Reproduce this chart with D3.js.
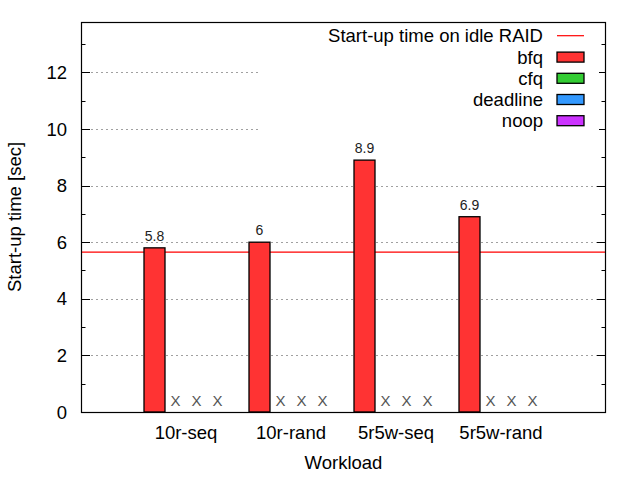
<!DOCTYPE html>
<html>
<head>
<meta charset="utf-8">
<script src="https://cdn.jsdelivr.net/npm/d3@7"></script>
<style>
  body { margin: 0; background: #fff; }
  svg { display: block; }
  text { font-family: "Liberation Sans", Arial, sans-serif; }
</style>
</head>
<body>
<svg id="chart" width="640" height="480"></svg>
<script>
// ---- data ----
const categories = ["10r-seq", "10r-rand", "5r5w-seq", "5r5w-rand"];
const schedulers = ["bfq", "cfq", "deadline", "noop"];
const bfqValues = [5.8, 6.0, 8.9, 6.9];
const cfqValues = [null, null, null, null];
const deadlineValues = [null, null, null, null];
const noopValues = [null, null, null, null];
const valueLabels = ["5.8", "6", "8.9", "6.9"];
const idleRaidTime = 5.65;
const yTicks = [0, 2, 4, 6, 8, 10, 12];
const yMinorTicks = [1, 3, 5, 7, 9, 11, 13];
const colors = ["#ff3333", "#33cc33", "#3399ff", "#cc33ff"];
const legendLineLabel = "Start-up time on idle RAID";

const seriesValues = [bfqValues, cfqValues, deadlineValues, noopValues];

// ---- layout ----
const svg = d3.select("#chart");
const L = 81, R = 606, T = 22, B = 412;
const FS = 18.5;
const x = d3.scaleLinear().domain([-1, categories.length]).range([L, R]);
const y = d3.scaleLinear().domain([0, 13.78]).range([B, T]);
const slot = 1 / (schedulers.length + 1);

// grid
const grid = svg.append("g");
yTicks.filter(v => v > 0).forEach(v => {
  grid.append("line")
    .attr("x1", L).attr("x2", R)
    .attr("y1", Math.round(y(v)) + 0.5).attr("y2", Math.round(y(v)) + 0.5)
    .attr("stroke", "#a0a0a0").attr("stroke-width", 1)
    .attr("stroke-dasharray", "2,3");
});

// ticks left and right (inward)
const ticks = svg.append("g");
function tick(v, len) {
  const yy = Math.round(y(v)) + 0.5;
  ticks.append("line").attr("x1", L).attr("x2", L + len).attr("y1", yy).attr("y2", yy)
    .attr("stroke", "#000");
  ticks.append("line").attr("x1", R).attr("x2", R - len).attr("y1", yy).attr("y2", yy)
    .attr("stroke", "#000");
}
yTicks.forEach(v => tick(v, 9));
yMinorTicks.forEach(v => tick(v, 4.5));

// legend background (opaque key)
svg.append("rect").attr("x", 258).attr("y", T + 1).attr("width", 341).attr("height", 113)
  .attr("fill", "#fff");

// idle RAID reference line (behind bars)
svg.append("line")
  .attr("x1", L).attr("x2", R)
  .attr("y1", y(idleRaidTime)).attr("y2", y(idleRaidTime))
  .attr("stroke", "#ff0000").attr("stroke-width", 1.2);

// bars
const barsG = svg.append("g");
seriesValues.forEach((vals, j) => {
  vals.forEach((v, i) => {
    const cx = i + (j - (schedulers.length - 1) / 2) * slot;
    if (v === null) {
      barsG.append("text")
        .attr("x", x(cx)).attr("y", B - 6.5)
        .attr("text-anchor", "middle")
        .attr("font-size", 15).attr("fill", "#555")
        .text("X");
    } else {
      const x0 = x(cx - slot / 2), x1 = x(cx + slot / 2);
      barsG.append("rect")
        .attr("x", x0).attr("y", y(v))
        .attr("width", x1 - x0).attr("height", y(0) - y(v))
        .attr("fill", colors[j]).attr("stroke", "#000").attr("stroke-width", 1.3);
      barsG.append("text")
        .attr("x", x(cx)).attr("y", y(v) - 7)
        .attr("text-anchor", "middle")
        .attr("font-size", 14).attr("fill", "#222")
        .text(valueLabels[i]);
    }
  });
});

// border
svg.append("rect").attr("x", L + 0.5).attr("y", T + 0.5)
  .attr("width", R - L - 1).attr("height", B - T)
  .attr("fill", "none").attr("stroke", "#000").attr("stroke-width", 1.2);

// y tick labels
svg.append("g").selectAll("text").data(yTicks).join("text")
  .attr("x", 67).attr("y", d => y(d) + 6.7)
  .attr("text-anchor", "end").attr("font-size", FS)
  .text(d => d);

// x category labels
svg.append("g").selectAll("text").data(categories).join("text")
  .attr("x", (d, i) => x(i)).attr("y", 439)
  .attr("text-anchor", "middle").attr("font-size", FS)
  .text(d => d);

// axis titles
svg.append("text").attr("x", (L + R) / 2).attr("y", 469)
  .attr("text-anchor", "middle").attr("font-size", FS).text("Workload");
svg.append("text")
  .attr("transform", `translate(20.5, ${(T + B) / 2}) rotate(-90)`)
  .attr("text-anchor", "middle").attr("font-size", FS).text("Start-up time [sec]");

// legend
const legend = svg.append("g");
const lgTextX = 543, lgSampleX = 557, lgSampleW = 27;
const rowY = [35.7, 57.1, 78.3, 99.5, 120.7];
legend.append("text").attr("x", lgTextX).attr("y", rowY[0] + 6.7)
  .attr("text-anchor", "end").attr("font-size", FS).text(legendLineLabel);
legend.append("line").attr("x1", lgSampleX).attr("x2", lgSampleX + lgSampleW)
  .attr("y1", rowY[0]).attr("y2", rowY[0]).attr("stroke", "#ff0000").attr("stroke-width", 1.2);
schedulers.forEach((s, j) => {
  const ry = rowY[j + 1];
  legend.append("text").attr("x", lgTextX).attr("y", ry + 6.7)
    .attr("text-anchor", "end").attr("font-size", FS).text(s);
  legend.append("rect").attr("x", lgSampleX).attr("y", ry - 5)
    .attr("width", lgSampleW).attr("height", 10)
    .attr("fill", colors[j]).attr("stroke", "#000").attr("stroke-width", 1.3);
});
</script>
</body>
</html>
